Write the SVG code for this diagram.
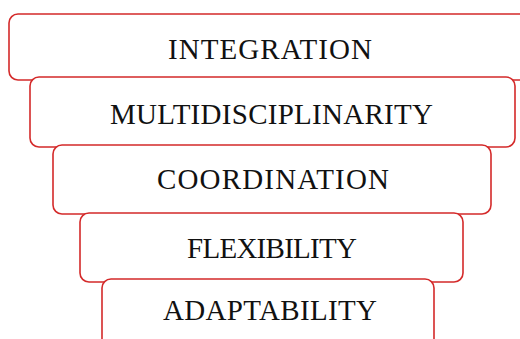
<svg xmlns="http://www.w3.org/2000/svg" width="520" height="339" viewBox="0 0 520 339">
<style>
.box{fill:#fff;stroke:#d42a2a;stroke-width:1.6}
.lbl{font-family:"Liberation Serif","Times New Roman",serif;font-size:29px;fill:#111;text-anchor:middle}
</style>
<rect x="0" y="0" width="520" height="339" fill="#fff"/>
<g id="integration">
<rect class="box" x="9" y="14" width="530" height="66" rx="9"/>
<text class="lbl" x="270" y="59" textLength="204" lengthAdjust="spacing">INTEGRATION</text>
</g>
<g id="multidisciplinarity">
<rect class="box" x="30" y="77" width="485" height="70" rx="9"/>
<text class="lbl" x="271.5" y="124" textLength="323" lengthAdjust="spacing">MULTIDISCIPLINARITY</text>
</g>
<g id="coordination">
<rect class="box" x="53" y="145" width="438" height="69" rx="9"/>
<text class="lbl" x="273" y="189" textLength="232" lengthAdjust="spacing">COORDINATION</text>
</g>
<g id="flexibility">
<rect class="box" x="80" y="213" width="383" height="69" rx="9"/>
<text class="lbl" x="272" y="258" textLength="170" lengthAdjust="spacing">FLEXIBILITY</text>
</g>
<g id="adaptability">
<rect class="box" x="102" y="279" width="332" height="80" rx="9"/>
<text class="lbl" x="270" y="320" textLength="214" lengthAdjust="spacing">ADAPTABILITY</text>
</g>
<g id="connectors"></g>
</svg>
